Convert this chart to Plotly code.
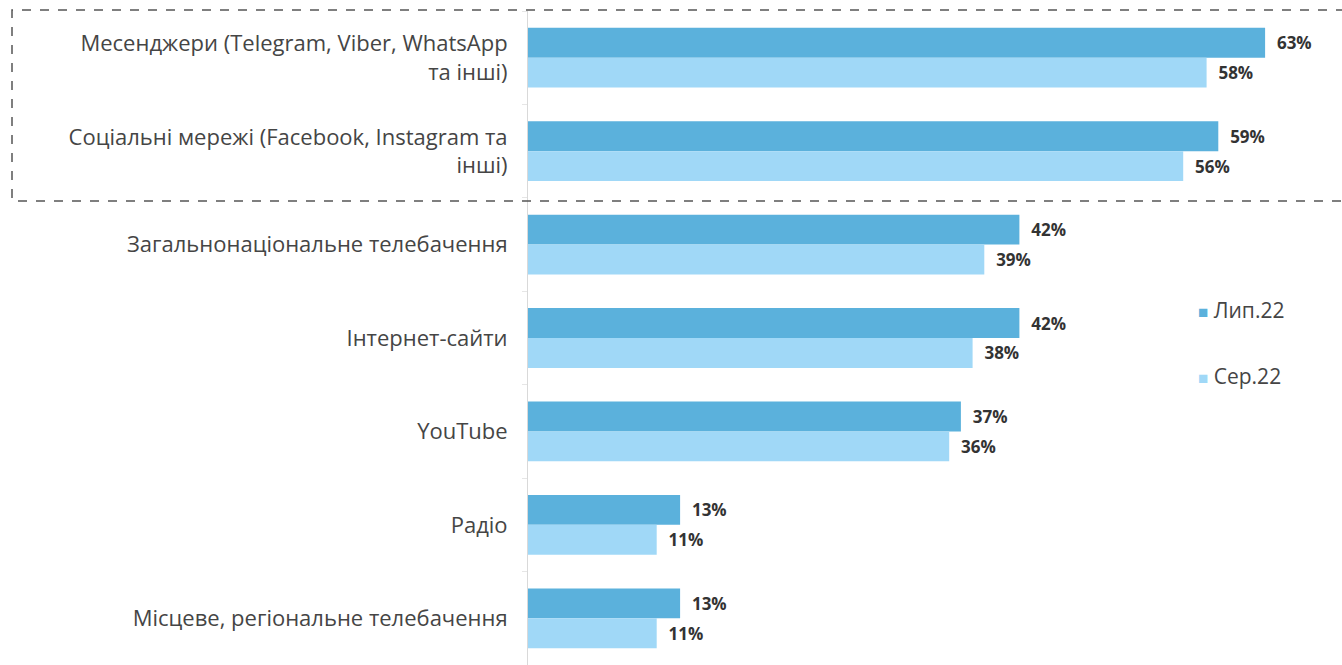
import plotly.graph_objects as go

categories = [
    "Месенджери (Telegram, Viber, WhatsApp<br>та інші)",
    "Соціальні мережі (Facebook, Instagram та<br>інші)",
    "Загальнонаціональне телебачення",
    "Інтернет-сайти",
    "YouTube",
    "Радіо",
    "Місцеве, регіональне телебачення",
]
series_names = ["Лип.22", "Сер.22"]
jul_values = [63, 59, 42, 42, 37, 13, 13]
aug_values = [58, 56, 39, 38, 36, 11, 11]
colors = ["#5BB1DC", "#A0D8F7"]

W, H = 1342, 665
ML, MR, MT, MB = 528, 0, 11, 0
px_per_unit = 11.70
xmax = (W - ML - MR) / px_per_unit
FONT = "Open Sans"

fig = go.Figure()
for name, vals, col in zip(series_names, [jul_values, aug_values], colors):
    fig.add_trace(go.Bar(
        y=categories, x=vals, orientation="h", name=name,
        marker=dict(color=col, line=dict(width=0)),
        text=[f"  {v}%" for v in vals], textposition="outside",
        textfont=dict(family=FONT, size=17, color="#333333", weight="bold"),
        cliponaxis=False, showlegend=False,
    ))

pw = W - ML - MR
ph = H - MT - MB
def xp(px):
    return (px - ML) / pw
def yp(py):
    return (H - MB - py) / ph

fig.update_layout(
    width=W, height=H,
    margin=dict(l=ML, r=MR, t=MT, b=MB),
    barmode="group", bargap=0.36, bargroupgap=0,
    plot_bgcolor="white", paper_bgcolor="white",
    font=dict(family=FONT, size=22, color="#454545"),
    xaxis=dict(range=[0, xmax], visible=False),
    yaxis=dict(autorange="reversed", showline=True, linecolor="#D9D9D9", linewidth=1,
               ticks="outside", tickson="boundaries", ticklen=5, tickcolor="#E6E6E6",
               ticklabelstandoff=15, tickfont=dict(family=FONT, size=22, color="#454545")),
    showlegend=False,
)

# legend drawn as text entries (squares + series names)
legend_y = [310, 376]
for name, col, ly in zip(series_names, colors, legend_y):
    fig.add_annotation(
        xref="paper", yref="paper", x=xp(1196), y=yp(ly), xanchor="left", yanchor="middle",
        text=f"<span style='color:{col};font-size:17px'>■</span> {name}",
        showarrow=False, font=dict(family=FONT, size=21, color="#454545"),
    )

# dashed highlight box
fig.add_shape(type="path", xref="paper", yref="paper",
              path=f"M {xp(1345)} {yp(10)} L {xp(12)} {yp(10)} L {xp(12)} {yp(201)} L {xp(1345)} {yp(201)}",
              line=dict(color="#555555", width=1.5, dash="dash"))

fig.write_html("out.html", config={"displayModeBar": False},
               post_script="document.body.style.margin='0';")
